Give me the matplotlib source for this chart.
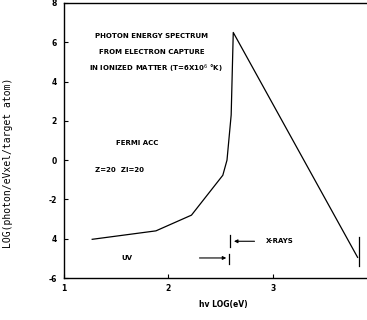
import matplotlib.pyplot as plt

# photon spectrum curve (log eV, log photons)
spec_x = [1.27, 1.88, 2.22, 2.52, 2.56, 2.60, 2.62, 3.81]
spec_y = [-4.03, -3.6, -2.8, -0.77, 0.0, 2.3, 6.5, -4.95]
end_x = 3.82
end_y = [-3.9, -5.4]

xticks = [1, 2, 3]
yticks = [8, 6, 4, 2, 0, -2, -4, -6]
ytick_labels = ['8', '6', '4', '2', '0', '-2', '4', '-6']

fig = plt.figure(figsize=(3.67, 3.2), dpi=100)
ax = fig.add_axes([64 / 367, 1 - 278 / 320, 1 - 64 / 367, 275 / 320])

ax.plot(spec_x, spec_y, color='black', lw=0.9)
ax.plot([end_x, end_x], end_y, color='black', lw=0.9)

ax.set_xlim(1, 3.9)
ax.set_ylim(-6, 8)
ax.spines['right'].set_visible(False)
for s in ['left', 'bottom', 'top']:
    ax.spines[s].set_linewidth(1.0)

ax.set_xticks(xticks)
ax.set_xticklabels([str(v) for v in xticks], fontsize=5.5, fontweight='bold')
ax.set_yticks(yticks)
ax.set_yticklabels(ytick_labels, fontsize=5.5, fontweight='bold')
ax.tick_params(direction='in', length=3, width=0.8, pad=4)
ax.tick_params(axis='y', pad=5)

fig.text(223 / 367, 1 - 305 / 320, 'hv LOG(eV)', fontsize=5.5, fontweight='bold',
         ha='center', va='center')
fig.text(8 / 367, 1 - 163 / 320, 'LOG(photon/eVxel/target atom)', family='DejaVu Sans Mono',
         fontsize=7, rotation=90, ha='center', va='center')

tk = dict(fontsize=5, fontweight='bold', ha='center', va='center')
ax.text(1.84, 6.3, 'PHOTON ENERGY SPECTRUM', **tk)
ax.text(1.84, 5.5, 'FROM ELECTRON CAPTURE', **tk)
ax.text(1.88, 4.64, 'IN IONIZED MATTER (T=6X10$^6$ °K)', **tk)
ax.text(1.7, 0.87, 'FERMI ACC', **tk)
ax.text(1.3, -0.5, 'Z=20  ZI=20', fontsize=5, fontweight='bold', ha='left', va='center')
ax.text(1.6, -4.98, 'UV', **tk)
ax.text(3.06, -4.13, 'X-RAYS', **tk)

# UV arrow and X-ray arrow with boundary bars
ax.annotate('', xy=(2.58, -4.98), xytext=(2.27, -4.98),
            arrowprops=dict(arrowstyle='-|>', color='black', lw=0.8, mutation_scale=5))
ax.plot([2.58, 2.58], [-4.8, -5.3], color='black', lw=0.9)
ax.annotate('', xy=(2.60, -4.13), xytext=(2.85, -4.13),
            arrowprops=dict(arrowstyle='-|>', color='black', lw=0.8, mutation_scale=5))
ax.plot([2.59, 2.59], [-3.83, -4.44], color='black', lw=0.9)

fig.savefig('out.png', dpi=100)
